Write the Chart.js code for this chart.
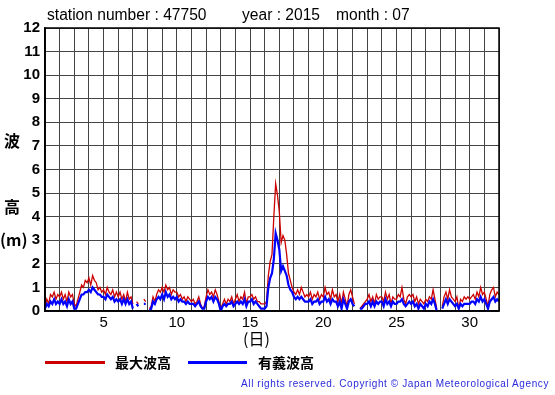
<!DOCTYPE html>
<html>
<head>
<meta charset="utf-8">
<script src="https://cdn.jsdelivr.net/npm/chart.js@4/dist/chart.umd.min.js"></script>
<style>
  body { margin: 0; background: #fff; }
  #wrap { position: relative; width: 555px; height: 395px; font-family: "Liberation Sans", Arial, sans-serif; }
  #wrap canvas { position: absolute; left: 0; top: 0; }
  .txt { position: absolute; white-space: nowrap; color: #000; line-height: 1; }
  .jp { font-family: "Noto Sans CJK JP", sans-serif; font-weight: bold; }
  .swatch { position: absolute; height: 3px; }
</style>
</head>
<body>
<div id="wrap">
  <canvas id="myChart" width="555" height="395"></canvas>
  <div class="txt" style="left:47px;top:7px;font-size:15.6px;">station number : 47750</div>
  <div class="txt" style="left:242px;top:7px;font-size:15.6px;">year : 2015</div>
  <div class="txt" style="left:336px;top:7px;font-size:15.6px;">month : 07</div>
  <div class="txt jp" style="left:4px;top:132px;font-size:16px;">波</div>
  <div class="txt jp" style="left:4px;top:198px;font-size:16px;">高</div>
  <div class="txt jp" style="left:0px;top:231px;font-size:16px;">(m)</div>
  <div class="txt jp" style="left:243px;top:330px;font-size:16px;font-weight:normal;">(日)</div>
  <div class="swatch" style="left:45px;top:361px;width:60px;background:#cc0000;"></div>
  <div class="txt jp" style="left:115px;top:355px;font-size:14px;">最大波高</div>
  <div class="swatch" style="left:188px;top:361px;width:59px;background:#0000ff;"></div>
  <div class="txt jp" style="left:258px;top:355px;font-size:14px;">有義波高</div>
  <div class="txt" style="right:6px;top:379px;font-size:10px;letter-spacing:0.6px;color:#2a2adb;">All rights reserved. Copyright © Japan Meteorological Agency</div>
</div>
<script>
'use strict'

// sampled every 3 hours from day 1 to day 32
const startDay = 1;
const stepsPerDay = 8;

// 最大波高 (m), one row per day
const maxWave = [
  0.2, 0.5, 0.3, 0.7, 0.6, 0.8, 0.5, 0.7,
  0.6, 0.8, 0.5, 0.7, 0.4, 0.8, 0.6, 0.7,
  0.3, 0.2, 0.5, 0.8, 1.1, 1.0, 1.3, 1.2,
  1.4, 1.1, 1.5, 1.3, 1.2, 0.9, 1.0, 0.8,
  0.9, 0.7, 1.0, 0.8, 0.7, 0.9, 0.6, 0.8,
  0.6, 0.8, 0.5, 0.7, 0.4, 0.8, 0.5, 0.6,
  0.3, null, 0.4, 0.3, null, null, 0.5, 0.4,
  null, 0.1, 0.2, 0.6, 0.4, 0.7, 0.9, 0.8,
  1.0, 0.8, 1.1, 0.9, 1.0, 0.7, 0.9, 0.8,
  0.8, 0.6, 0.7, 0.5, 0.6, 0.4, 0.6, 0.5,
  0.4, 0.5, 0.3, 0.4, 0.6, 0.3, 0.1, 0.2,
  0.6, 0.9, 0.7, 0.8, 0.6, 0.9, 0.7, 0.4,
  0.1, 0.3, 0.5, 0.3, 0.5, 0.4, 0.6, 0.3,
  0.5, 0.7, 0.4, 0.6, 0.5, 0.8, 0.3, 0.6,
  0.6, 0.7, 0.5, 0.6, 0.4, 0.4, 0.3, 0.3,
  0.3, 0.4, 1.5, 2.1, 2.4, 4.0, 5.4, 4.9,
  4.2, 2.9, 3.2, 3.0, 2.4, 1.6, 1.3, 1.0,
  0.8, 0.7, 0.9, 0.7, 1.0, 0.8, 0.6, 0.7,
  0.6, 0.8, 0.5, 0.7, 0.6, 0.8, 0.5, 0.7,
  0.6, 1.0, 0.7, 0.8, 0.5, 0.9, 0.6, 0.7,
  0.4, 0.7, 0.3, 0.8, 0.5, 0.2, 0.7, 0.9,
  0.6, 0.3, null, null, 0.1, 0.2, 0.3, 0.4,
  0.5, 0.7, 0.4, 0.6, 0.3, 0.7, 0.5, 0.6,
  0.6, 0.4, 0.8, 0.5, 0.7, 0.3, 0.6, 0.5,
  0.5, 0.7, 0.6, 1.0, 0.5, 0.3, 0.6, 0.7,
  0.6, 0.7, 0.4, 0.6, 0.3, 0.5, 0.4, 0.3,
  0.5, 0.4, 0.6, 0.5, 0.9, 0.5, 0.1, null,
  null, 0.2, 0.6, 0.8, 0.5, 0.9, 0.6, 0.5,
  0.4, 0.6, 0.1, 0.5, 0.4, 0.6, 0.5, 0.6,
  0.5, 0.6, 0.7, 0.5, 0.8, 0.6, 1.0, 0.7,
  0.8, 0.5, 0.2, 0.7, 0.9, 1.0, 0.6, 0.8,
  0.7
];

// 有義波高 (m), one row per day
const sigWave = [
  0.1, 0.3, 0.2, 0.4, 0.3, 0.5, 0.3, 0.4,
  0.3, 0.5, 0.3, 0.4, 0.2, 0.5, 0.3, 0.4,
  0.1, 0.1, 0.3, 0.5, 0.7, 0.7, 0.8, 0.8,
  0.9, 0.8, 1.0, 0.9, 0.8, 0.7, 0.7, 0.6,
  0.6, 0.5, 0.7, 0.6, 0.5, 0.6, 0.4, 0.5,
  0.4, 0.5, 0.3, 0.5, 0.3, 0.5, 0.3, 0.4,
  0.1, null, 0.3, 0.2, null, null, 0.3, 0.3,
  null, 0.0, 0.1, 0.4, 0.3, 0.5, 0.6, 0.5,
  0.7, 0.5, 0.8, 0.6, 0.7, 0.5, 0.6, 0.5,
  0.6, 0.4, 0.5, 0.4, 0.4, 0.3, 0.4, 0.3,
  0.3, 0.3, 0.2, 0.3, 0.4, 0.2, 0.1, 0.1,
  0.4, 0.6, 0.5, 0.6, 0.4, 0.6, 0.5, 0.3,
  0.0, 0.2, 0.3, 0.2, 0.3, 0.3, 0.4, 0.2,
  0.3, 0.4, 0.3, 0.4, 0.3, 0.5, 0.2, 0.4,
  0.4, 0.5, 0.3, 0.4, 0.3, 0.2, 0.1, 0.1,
  0.1, 0.2, 1.0, 1.4, 1.6, 2.2, 3.3, 3.0,
  2.6, 1.7, 1.9, 1.7, 1.5, 1.1, 0.9, 0.8,
  0.6, 0.5, 0.6, 0.5, 0.6, 0.5, 0.4, 0.4,
  0.4, 0.5, 0.3, 0.4, 0.4, 0.5, 0.3, 0.4,
  0.4, 0.6, 0.4, 0.5, 0.3, 0.5, 0.4, 0.4,
  0.2, 0.4, 0.1, 0.5, 0.3, 0.1, 0.4, 0.5,
  0.3, 0.2, null, null, 0.1, 0.1, 0.2, 0.3,
  0.3, 0.4, 0.2, 0.4, 0.2, 0.4, 0.3, 0.4,
  0.4, 0.2, 0.5, 0.3, 0.4, 0.2, 0.4, 0.3,
  0.3, 0.4, 0.4, 0.5, 0.3, 0.2, 0.3, 0.4,
  0.3, 0.4, 0.2, 0.3, 0.1, 0.3, 0.2, 0.1,
  0.3, 0.2, 0.4, 0.3, 0.5, 0.3, 0.0, null,
  null, 0.1, 0.3, 0.5, 0.3, 0.5, 0.4, 0.3,
  0.2, 0.3, 0.1, 0.3, 0.2, 0.3, 0.3, 0.3,
  0.3, 0.4, 0.4, 0.3, 0.5, 0.4, 0.6, 0.4,
  0.5, 0.3, 0.1, 0.4, 0.5, 0.6, 0.4, 0.5,
  0.4
];

const yTicks = [0, 1, 2, 3, 4, 5, 6, 7, 8, 9, 10, 11, 12];
const xLabels = [5, 10, 15, 20, 25, 30];

function toPoints(values) {
  let pts = [];
  for (let i = 0; i < values.length; i++) {
    pts.push({ x: startDay + i / stepsPerDay, y: values[i] });
  }
  return pts;
}

const data = {
  datasets: [{
    label: '最大波高',
    data: toPoints(maxWave),
    borderColor: '#cc0000',
    borderWidth: 1.3,
    order: 2
  },
  {
    label: '有義波高',
    data: toPoints(sigWave),
    borderColor: '#0000ff',
    borderWidth: 2.2,
    order: 1
  }]
};

const config = {
  type: 'line',
  data: data,
  options: {
    responsive: false,
    animation: false,
    spanGaps: false,
    elements: { point: { radius: 0 }, line: { tension: 0 } },
    layout: { padding: { left: 0, right: 56, top: 28, bottom: 59 } },
    plugins: { legend: { display: false }, tooltip: { enabled: false } },
    scales: {
      x: {
        type: 'linear',
        min: 1,
        max: 32,
        afterFit: function (scale) { scale.height = 25; },
        afterBuildTicks: function (scale) {
          let t = [];
          for (let d = 1; d <= 32; d++) t.push({ value: d });
          scale.ticks = t;
        },
        grid: { color: '#444', lineWidth: 1, drawTicks: false },
        border: { color: '#000', width: 1.5 },
        ticks: {
          autoSkip: false,
          maxRotation: 0,
          padding: 3,
          color: '#000',
          font: { family: 'Liberation Sans', size: 15 },
          callback: function (v) { return xLabels.includes(v) ? String(v) : ''; }
        }
      },
      y: {
        min: yTicks[0],
        max: yTicks[yTicks.length - 1],
        afterFit: function (scale) { scale.width = 45; },
        grid: { color: '#444', lineWidth: 1, drawTicks: false },
        border: { color: '#000', width: 1.5 },
        ticks: {
          stepSize: 1,
          padding: 5,
          color: '#000',
          font: { family: 'Liberation Sans', size: 15, weight: 'bold' }
        }
      }
    }
  },
  plugins: [{
    id: 'frame',
    afterDraw: function (chart) {
      const a = chart.chartArea;
      const ctx = chart.ctx;
      ctx.save();
      ctx.strokeStyle = '#000';
      ctx.lineWidth = 1.5;
      ctx.strokeRect(a.left, a.top, a.right - a.left, a.bottom - a.top);
      ctx.restore();
    }
  }]
};

let canvasChart = document.getElementById('myChart');
const myChart = new Chart(canvasChart, config);
</script>
</body>
</html>
